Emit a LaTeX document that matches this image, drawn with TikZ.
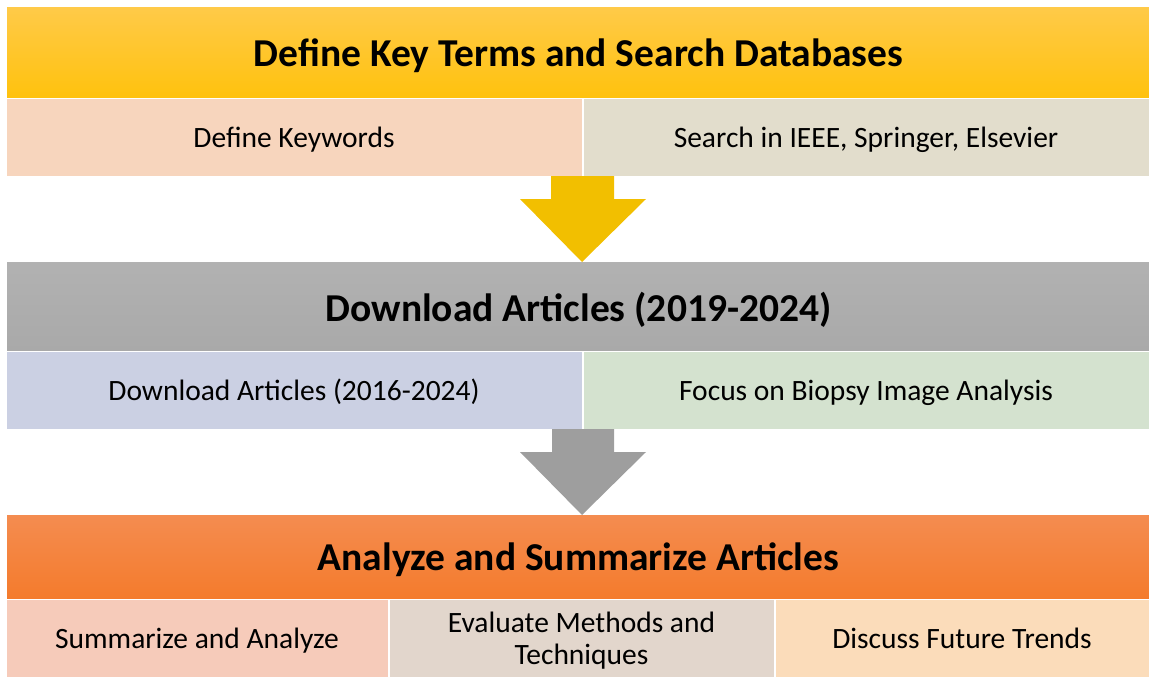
\documentclass[tikz,border=0pt]{standalone}
\usepackage{fontspec}
\setmainfont{Carlito}
\usepackage{tikz}
\usetikzlibrary{calc}

\definecolor{stageyellow}{HTML}{FFC20E}
\definecolor{stageyellowtop}{HTML}{FFCA48}
\definecolor{stagegray}{HTML}{A9A9A9}
\definecolor{stageorange}{HTML}{F47B2C}
\definecolor{stageorangetop}{HTML}{F48C50}
\definecolor{keywordfill}{HTML}{F7D5BD}
\definecolor{databasefill}{HTML}{E2DDCC}
\definecolor{yearsfill}{HTML}{CBD0E3}
\definecolor{biopsyfill}{HTML}{D4E2CF}
\definecolor{summaryfill}{HTML}{F6CBBA}
\definecolor{methodsfill}{HTML}{E2D6CC}
\definecolor{trendsfill}{HTML}{FBDCBA}
\definecolor{arrowyellow}{HTML}{F2BF00}
\definecolor{arrowgray}{HTML}{9E9E9E}

\tikzset{
  stage/.style={rectangle, anchor=north west, inner sep=0pt, outer sep=0pt,
    minimum width=1143pt, minimum height=89pt, text depth=0pt,
    font=\fontsize{39.5}{44}\selectfont\bfseries},
  task/.style={rectangle, anchor=north west, inner sep=0pt, outer sep=0pt,
    draw=white, line width=0.8pt, minimum height=78pt, align=center,
    text depth=0pt, font=\fontsize{29.5}{32}\selectfont},
}

\begin{document}
\begin{tikzpicture}[x=1pt,y=-1pt]
    \useasboundingbox (0,0) rectangle (1149,677);

    % step 1
    \node[stage, top color=stageyellowtop, bottom color=stageyellow] (search) at (7,8) {Define Key Terms and Search Databases};
    \node[task, fill=keywordfill, minimum width=576pt] (keywords) at (6,98) {Define Keywords};
    \node[task, fill=databasefill, minimum width=566pt] (databases) at (583,98) {Search in IEEE, Springer, Elsevier};

    % step 2
    \node[stage, top color=stagegray!90!white, bottom color=stagegray] (download) at (7,262) {Download Articles (2019-2024)};
    \node[task, fill=yearsfill, minimum width=576pt] (years) at (6,351) {Download Articles (2016-2024)};
    \node[task, fill=biopsyfill, minimum width=566pt] (biopsy) at (583,351) {Focus on Biopsy Image Analysis};

    % step 3
    \node[stage, top color=stageorangetop, bottom color=stageorange, minimum height=84pt] (analyze) at (7,515) {Analyze and Summarize Articles};
    \node[task, fill=summaryfill, minimum width=382pt] (summary) at (6,599) {Summarize and Analyze};
    \node[task, fill=methodsfill, minimum width=385pt] (methods) at (389,599) {Evaluate Methods and\\Techniques};
    \node[task, fill=trendsfill, minimum width=374pt] (trends) at (775,599) {Discuss Future Trends};

    % block arrows between the steps
    \fill[arrowyellow] ($(keywords.south east)+(-31,0)$) -- ($(keywords.south east)+(32,0)$)
      -- ($(keywords.south east)+(32,23)$) -- ($(keywords.south east)+(64,23)$)
      -- (keywords.south east |- download.north) -- ($(keywords.south east)+(-62,23)$)
      -- ($(keywords.south east)+(-31,23)$) -- cycle;
    \fill[arrowgray] ($(years.south east)+(-30,0)$) -- ($(years.south east)+(32,0)$)
      -- ($(years.south east)+(32,23)$) -- ($(years.south east)+(64,23)$)
      -- (years.south east |- analyze.north) -- ($(years.south east)+(-62,23)$)
      -- ($(years.south east)+(-30,23)$) -- cycle;
\end{tikzpicture}
\end{document}
